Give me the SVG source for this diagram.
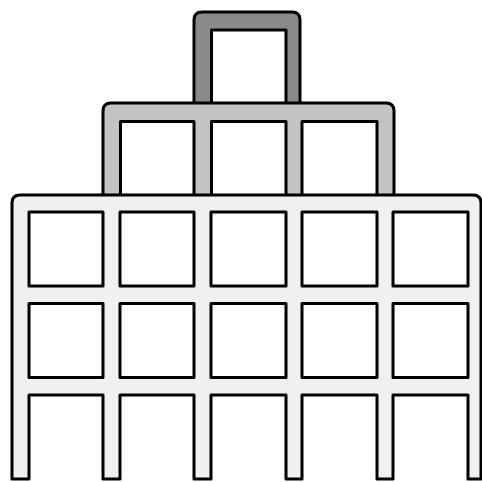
<svg xmlns="http://www.w3.org/2000/svg" width="482" height="482" viewBox="0 0 482 482">
<style>
.frame{stroke:#000;stroke-width:3;stroke-linejoin:round}
.hole{fill:#fff;stroke:#000;stroke-width:3;stroke-linejoin:round}
</style>
<rect width="482" height="482" fill="#fff"/>
<g id="top-level">
<path class="frame" fill="#8a8a8a" d="M194,105 V20 Q194,12 202,12 H292 Q300,12 300,20 V105 Z"/>
<rect class="hole" x="211.5" y="30" width="74.5" height="76"/>
</g>
<g id="middle-level">
<path class="frame" fill="#c3c3c3" d="M103,197 V111 Q103,103 111,103 H386 Q394,103 394,111 V197 Z"/>
<rect class="hole" x="120.5" y="121.5" width="73.5" height="76"/>
<rect class="hole" x="211.5" y="121.5" width="74.5" height="76"/>
<rect class="hole" x="302" y="121.5" width="75" height="76"/>
</g>
<g id="bottom-level">
<path class="frame" fill="#f0f0f0" d="M12,479 V203 Q12,195 20,195 H473 Q481,195 481,203 V479 H468 V395 H393 V479 H377 V395 H302 V479 H286 V395 H211 V479 H194 V395 H120 V479 H103 V395 H29 V479 Z"/>
<rect class="hole" x="29" y="212" width="74" height="74"/>
<rect class="hole" x="120" y="212" width="74" height="74"/>
<rect class="hole" x="211" y="212" width="75" height="74"/>
<rect class="hole" x="302" y="212" width="75" height="74"/>
<rect class="hole" x="393" y="212" width="75" height="74"/>
<rect class="hole" x="29" y="303.5" width="74" height="74"/>
<rect class="hole" x="120" y="303.5" width="74" height="74"/>
<rect class="hole" x="211" y="303.5" width="75" height="74"/>
<rect class="hole" x="302" y="303.5" width="75" height="74"/>
<rect class="hole" x="393" y="303.5" width="75" height="74"/>
</g>
</svg>
